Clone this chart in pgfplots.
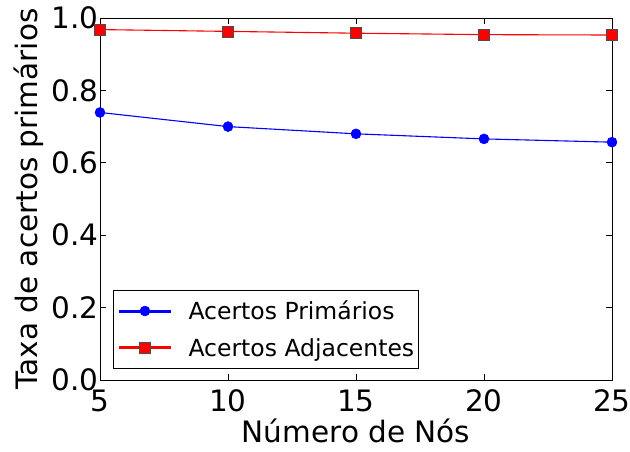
\documentclass[border=0pt]{standalone}
\usepackage{fontspec}
\setmainfont{DejaVu Sans}
\usepackage{pgfplots}
\pgfplotsset{compat=1.18}
\begin{document}
\begin{tikzpicture}
\begin{axis}[
  width=512pt, height=362pt, scale only axis,
  xmin=5, xmax=25, ymin=0, ymax=1,
  xtick={5,10,15,20,25}, ytick={0,0.2,0.4,0.6,0.8,1.0},
  yticklabel style={/pgf/number format/fixed, /pgf/number format/fixed zerofill, /pgf/number format/precision=1},
  /pgf/number format/assume math mode=true,
  tick align=inside, major tick length=6pt,
  xtick pos=both, ytick pos=both,
  tick style={black, line width=0.6pt},
  axis line style={line width=0.8pt},
  tick label style={font=\fontsize{29.5}{34}\selectfont},
  xticklabel style={yshift=-6pt},
  yticklabel style={xshift=2pt},
  label style={font=\fontsize{29.5}{34}\selectfont},
  xlabel={Número de Nós}, ylabel={Taxa de acertos primários},
  xlabel style={at={(axis description cs:0.5,-0.1713)}, anchor=base},
  ylabel style={at={(axis description cs:-0.123,0.5)}, anchor=base, rotate=0},
  legend style={at={(0.0254,0.032)}, anchor=south west, font=\fontsize{23.5}{28}\selectfont,
    draw=black, line width=0.8pt, row sep=13pt, inner xsep=2pt, inner ysep=8.5pt},
  legend cell align=left,
  legend image code/.code={
    \path (0pt,0pt) (70pt,0pt);
    \draw[#1, line width=3pt, mark=none] (3pt,0pt) -- (55pt,0pt);
    \draw[#1, mark repeat=1] plot coordinates {(29pt,0pt)};
  },
]
\addplot[blue, line width=1.1pt, mark=*, mark size=5pt, mark options={fill=blue, draw=blue, line width=0.5pt}]
  coordinates {(5,0.739) (10,0.700) (15,0.680) (20,0.666) (25,0.657)};
\addlegendentry{Acertos Primários}
\addplot[red, line width=1.1pt, mark=square*, mark size=5.5pt, mark options={fill=red, draw=black!70, line width=0.6pt}]
  coordinates {(5,0.968) (10,0.963) (15,0.958) (20,0.954) (25,0.953)};
\addlegendentry{Acertos Adjacentes\hspace{8pt}}
\coordinate (BL) at (rel axis cs:0,0);
\coordinate (TR) at (rel axis cs:1,1);
\end{axis}
\pgfresetboundingbox
\path[use as bounding box] ([xshift=-100pt,yshift=-72pt]BL) rectangle ([xshift=18pt,yshift=18pt]TR);
\end{tikzpicture}
\end{document}
